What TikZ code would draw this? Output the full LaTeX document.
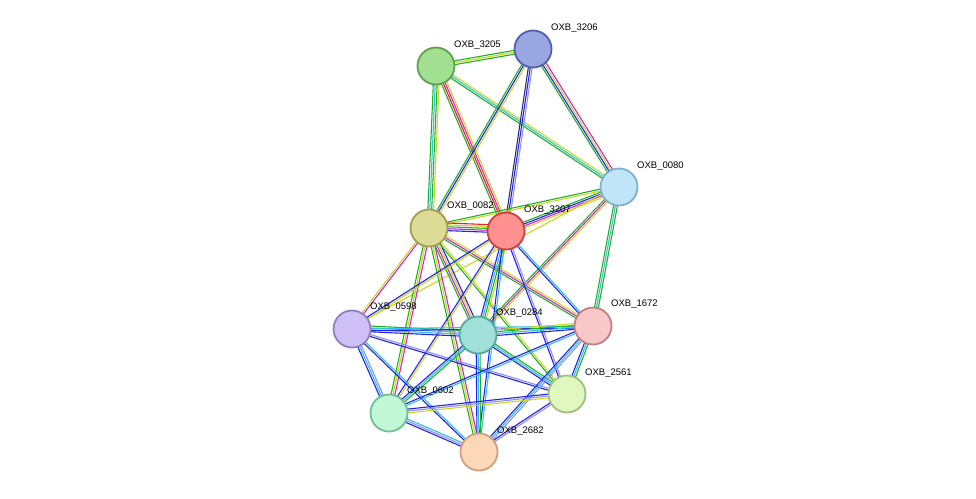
\documentclass[tikz,border=0pt]{standalone}
\usepackage{fontspec}
\setmainfont{Liberation Sans}
\usetikzlibrary{calc}
\definecolor{qg}{HTML}{20B020}\definecolor{qr}{HTML}{F02020}\definecolor{qm}{HTML}{D020D0}
\definecolor{qc}{HTML}{30C0E0}\definecolor{qy}{HTML}{C8D820}\definecolor{qb}{HTML}{2020F0}
\definecolor{ql}{HTML}{9090F0}\definecolor{qk}{HTML}{303060}
\tikzset{prot/.style={circle,minimum size=37pt,inner sep=0pt,line width=1.8pt},
lab/.style={font=\fontsize{9.5}{10}\selectfont,anchor=south west,inner sep=1pt}}
\newcommand\edg[3]{\foreach \c [count=\i] in {#3} {\pgfmathsetmacro\o{(\i-2)*1.9}
\draw[color=\c,line width=1.1pt] ($(#1)!\o pt!90:(#2)$) -- ($(#2)!\o pt!-90:(#1)$);}}
\begin{document}
\begin{tikzpicture}[x=1pt,y=-1pt]
\useasboundingbox (0,0) rectangle (976,498);
\coordinate (a) at (436,66);\coordinate (b) at (533,49);\coordinate (c) at (619,187);
\coordinate (d) at (429,228);\coordinate (e) at (506,231);\coordinate (f) at (352,329);
\coordinate (g) at (478,335);\coordinate (h) at (593,326);\coordinate (i) at (567,394);
\coordinate (j) at (389,413);\coordinate (k) at (479,452);
\edg{a}{b}{qg,qy,qg}\edg{a}{d}{qg,qc,qg,qy}\edg{a}{e}{qg,qr,qm,qy}\edg{a}{c}{qg,qc,qy}
\edg{b}{d}{qg,qb,qy}\edg{b}{e}{qk,qb,ql}\edg{b}{c}{qg,qb,qy,qm}
\edg{c}{d}{qg,qy}\edg{c}{e}{qg,qb,qm,qy}\edg{c}{h}{qg,qc,qg}\edg{c}{g}{qg,qm,qy}\edg{c}{f}{qy}
\edg{d}{e}{qb,qm,qg,qy,qr}\edg{d}{f}{qy,qm}\edg{d}{g}{qg,qm,qy,qb}\edg{d}{h}{qg,qm,qy}
\edg{d}{i}{qg,qy}\edg{d}{j}{qg,qy,qm}\edg{d}{k}{qg,qy,qm}
\edg{e}{f}{qb,qy}\edg{e}{g}{qb,qc,qg,qy}\edg{e}{h}{qb,qc}\edg{e}{i}{qb,ql}\edg{e}{j}{qb,qy}\edg{e}{k}{qb,qc}
\edg{f}{g}{qb,qc,ql,qg}\edg{f}{h}{qb,qc}\edg{f}{i}{qb,ql}\edg{f}{j}{qb,qc,ql}\edg{f}{k}{qb,qc}
\edg{g}{h}{qb,qc,qg,qy}\edg{g}{i}{qb,qc,qg}\edg{g}{j}{qb,qc,qg}\edg{g}{k}{qb,qc,qg}
\edg{h}{i}{qb,qc,qg}\edg{h}{j}{qb,qc}\edg{h}{k}{qb,qc,ql}\edg{i}{j}{qb,ql,qy}\edg{i}{k}{qb,ql}\edg{j}{k}{qb,ql,qc}
\node[prot,fill={rgb,255:red,160;green,224;blue,144},draw={rgb,255:red,96;green,160;blue,80}] (A) at (a) {};
\node[prot,fill={rgb,255:red,154;green,166;blue,224},draw={rgb,255:red,80;green,96;blue,176}] (B) at (b) {};
\node[prot,fill={rgb,255:red,192;green,228;blue,248},draw={rgb,255:red,128;green,176;blue,208}] (C) at (c) {};
\node[prot,fill={rgb,255:red,220;green,220;blue,150},draw={rgb,255:red,160;green,160;blue,80}] (D) at (d) {};
\node[prot,fill={rgb,255:red,255;green,144;blue,144},draw={rgb,255:red,208;green,64;blue,64}] (E) at (e) {};
\node[prot,fill={rgb,255:red,208;green,192;blue,248},draw={rgb,255:red,144;green,128;blue,192}] (F) at (f) {};
\node[prot,fill={rgb,255:red,160;green,224;blue,216},draw={rgb,255:red,80;green,168;blue,160}] (G) at (g) {};
\node[prot,fill={rgb,255:red,248;green,200;blue,200},draw={rgb,255:red,192;green,128;blue,128}] (H) at (h) {};
\node[prot,fill={rgb,255:red,224;green,248;blue,192},draw={rgb,255:red,160;green,192;blue,128}] (I) at (i) {};
\node[prot,fill={rgb,255:red,192;green,248;blue,216},draw={rgb,255:red,112;green,192;blue,144}] (J) at (j) {};
\node[prot,fill={rgb,255:red,252;green,216;blue,184},draw={rgb,255:red,208;green,160;blue,128}] (K) at (k) {};
\node[lab] (lA) at (453,51) {OXB\_3205};\node[lab] (lB) at (550,34) {OXB\_3206};
\node[lab] (lC) at (636,172) {OXB\_0080};\node[lab] (lD) at (446,212) {OXB\_0082};
\node[lab] (lE) at (523,216) {OXB\_3207};\node[lab] (lF) at (369,313) {OXB\_0598};
\node[lab] (lG) at (495,319) {OXB\_0284};\node[lab] (lH) at (610,310) {OXB\_1672};
\node[lab] (lI) at (584,379) {OXB\_2561};\node[lab] (lJ) at (406,397) {OXB\_0602};
\node[lab] (lK) at (496,437) {OXB\_2682};
\end{tikzpicture}
\end{document}
